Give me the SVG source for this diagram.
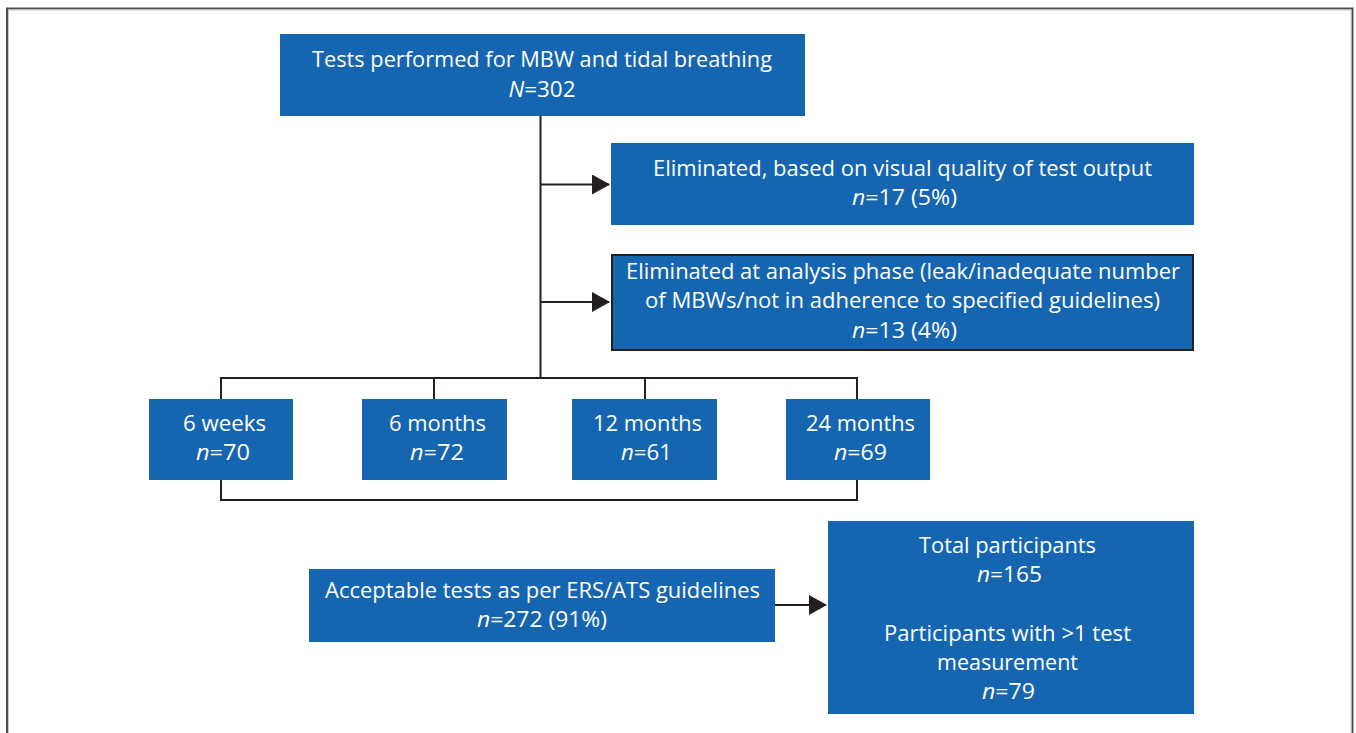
<svg xmlns="http://www.w3.org/2000/svg" width="1356" height="733" viewBox="0 0 1356 733">
<defs>
<marker id="arr" markerWidth="18" markerHeight="20" refX="17" refY="10" orient="auto" markerUnits="userSpaceOnUse">
<path d="M0,0 L18,10 L0,20 Z" fill="#231f20"/>
</marker>
<style>
.box{fill:#1565b0}
.bord{stroke:#231f20;stroke-width:2}
.t{font-family:"Open Sans","Liberation Sans",sans-serif;font-size:22px;fill:#ffffff;text-anchor:middle}
.i{font-style:italic}
.ln{fill:none;stroke:#231f20;stroke-width:2}
</style>
</defs>
<rect x="0" y="0" width="1356" height="733" fill="#ffffff"/>
<path d="M7,740 L7,8.5 L1352.5,8.5 L1352.5,740" fill="none" stroke="#4d4d4d" stroke-width="2"/>
<path d="M8.5,740 L8.5,10 L1351,10 L1351,740" fill="none" stroke="#c8c8c8" stroke-width="1"/>

<g id="connectors">
<path class="ln" d="M540.5,116 L540.5,378"/>
<path class="ln" d="M540.5,184.5 L609,184.5" marker-end="url(#arr)"/>
<path class="ln" d="M540.5,302 L609,302" marker-end="url(#arr)"/>
<path class="ln" d="M221,399 L221,378 L857,378 L857,399"/>
<path class="ln" d="M434,378 L434,399"/>
<path class="ln" d="M645,378 L645,399"/>
<path class="ln" d="M221,480 L221,500 L857,500 L857,480"/>
<path class="ln" d="M774,605 L826,605" marker-end="url(#arr)"/>
</g>

<g id="node-total-tests">
<rect class="box" x="280" y="34" width="525" height="82"/>
<text class="t" x="542" y="66.5" textLength="460" lengthAdjust="spacingAndGlyphs">Tests performed for MBW and tidal breathing</text>
<text class="t" x="542" y="96.5" textLength="67" lengthAdjust="spacingAndGlyphs"><tspan class="i">N</tspan>=302</text>
</g>

<g id="node-elim-visual">
<rect class="box" x="611" y="143" width="583" height="82"/>
<text class="t" x="902.5" y="175.5" textLength="499" lengthAdjust="spacingAndGlyphs">Eliminated, based on visual quality of test output</text>
<text class="t" x="904.5" y="204.5" textLength="105" lengthAdjust="spacingAndGlyphs"><tspan class="i">n</tspan>=17 (5%)</text>
</g>

<g id="node-elim-analysis">
<rect class="box bord" x="612" y="255" width="581" height="95"/>
<text class="t" x="903" y="278.5" textLength="554" lengthAdjust="spacingAndGlyphs">Eliminated at analysis phase (leak/inadequate number</text>
<text class="t" x="902.5" y="307.5" textLength="515" lengthAdjust="spacingAndGlyphs">of MBWs/not in adherence to specified guidelines)</text>
<text class="t" x="904.5" y="337.5" textLength="105" lengthAdjust="spacingAndGlyphs"><tspan class="i">n</tspan>=13 (4%)</text>
</g>

<g id="node-6weeks">
<rect class="box" x="149" y="399" width="144" height="81"/>
<text class="t" x="224.5" y="430.5" textLength="83" lengthAdjust="spacingAndGlyphs">6 weeks</text>
<text class="t" x="223" y="459.5" textLength="54" lengthAdjust="spacingAndGlyphs"><tspan class="i">n</tspan>=70</text>
</g>

<g id="node-6months">
<rect class="box" x="362" y="399" width="145" height="81"/>
<text class="t" x="437.5" y="430.5" textLength="97" lengthAdjust="spacingAndGlyphs">6 months</text>
<text class="t" x="437" y="459.5" textLength="54" lengthAdjust="spacingAndGlyphs"><tspan class="i">n</tspan>=72</text>
</g>

<g id="node-12months">
<rect class="box" x="572" y="399" width="145" height="81"/>
<text class="t" x="647.5" y="430.5" textLength="109" lengthAdjust="spacingAndGlyphs">12 months</text>
<text class="t" x="646.5" y="459.5" textLength="51" lengthAdjust="spacingAndGlyphs"><tspan class="i">n</tspan>=61</text>
</g>

<g id="node-24months">
<rect class="box" x="786" y="399" width="144" height="81"/>
<text class="t" x="860.5" y="430.5" textLength="109" lengthAdjust="spacingAndGlyphs">24 months</text>
<text class="t" x="860.5" y="459.5" textLength="53" lengthAdjust="spacingAndGlyphs"><tspan class="i">n</tspan>=69</text>
</g>

<g id="node-acceptable">
<rect class="box" x="309" y="569" width="466" height="73"/>
<text class="t" x="542.5" y="597.5" textLength="435" lengthAdjust="spacingAndGlyphs">Acceptable tests as per ERS/ATS guidelines</text>
<text class="t" x="542" y="626.5" textLength="130" lengthAdjust="spacingAndGlyphs"><tspan class="i">n</tspan>=272 (91%)</text>
</g>

<g id="node-participants">
<rect class="box" x="828" y="521" width="366" height="193"/>
<text class="t" x="1007.5" y="552.5" textLength="177" lengthAdjust="spacingAndGlyphs">Total participants</text>
<text class="t" x="1009.5" y="581.5" textLength="65" lengthAdjust="spacingAndGlyphs"><tspan class="i">n</tspan>=165</text>
<text class="t" x="1007.5" y="640.5" textLength="247" lengthAdjust="spacingAndGlyphs">Participants with &gt;1 test</text>
<text class="t" x="1007.5" y="669.5" textLength="141" lengthAdjust="spacingAndGlyphs">measurement</text>
<text class="t" x="1008.5" y="698.5" textLength="53" lengthAdjust="spacingAndGlyphs"><tspan class="i">n</tspan>=79</text>
</g>
</svg>
